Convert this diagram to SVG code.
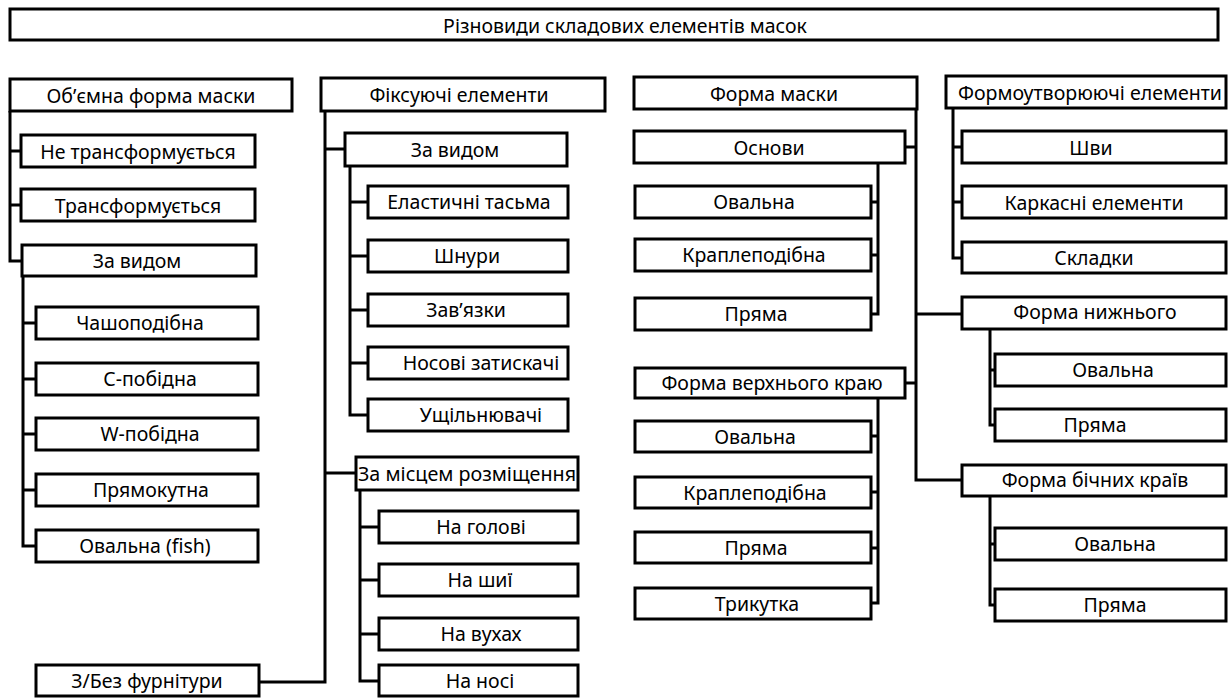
<svg xmlns="http://www.w3.org/2000/svg" width="1229" height="698" viewBox="0 0 1229 698">
<style>
rect{fill:#fff;stroke:#000;stroke-width:3}
text{font-family:"Noto Sans","Open Sans","DejaVu Sans",sans-serif;font-size:19.5px;fill:#000;text-anchor:middle;dominant-baseline:central}
.c path{fill:none;stroke:#000;stroke-width:3}
</style>
<rect width="1229" height="698" style="stroke:none"/>
<g class="c" id="connectors">
<path d="M10,111V261H22M10,151H21M10,205H21"/>
<path d="M23,276V546H36M23,323H36M23,379H36M23,434H36M23,490H36"/>
<path d="M325,111V682H259M325,149H345M325,473H356"/>
<path d="M350,166V415H368M350,202H368M350,256H368M350,310H368M350,363H368"/>
<path d="M360,490V681H379M360,527H379M360,580H379M360,634H379"/>
<path d="M916,109V480H962M916,147H905M916,383H905M916,314H962"/>
<path d="M878,163V314H871M878,202H871M878,255H871"/>
<path d="M878,398V603H871M878,436H871M878,492H871M878,548H871"/>
<path d="M953,108V258H962M953,147H962M953,202H962"/>
<path d="M990,329V425H995M990,370H995"/>
<path d="M990,496V605H995M990,544H995"/>
</g>
<g id="title"><rect x="10" y="9" width="1208" height="31"/><text x="625" y="25">Різновиди складових елементів масок</text></g>
<g id="n-obyemna"><rect x="10" y="79" width="282" height="32"/><text x="151" y="95">Об’ємна форма маски</text></g>
<g id="n-ne-transf"><rect x="21" y="135" width="234" height="32"/><text x="138" y="151">Не трансформується</text></g>
<g id="n-transf"><rect x="21" y="189" width="234" height="32"/><text x="138" y="205">Трансформується</text></g>
<g id="n-zavydom1"><rect x="22" y="245" width="234" height="31"/><text x="137" y="260">За видом</text></g>
<g id="n-chasho"><rect x="36" y="307" width="222" height="32"/><text x="140" y="322">Чашоподібна</text></g>
<g id="n-c"><rect x="36" y="363" width="222" height="32"/><text x="150" y="378">С-побідна</text></g>
<g id="n-w"><rect x="36" y="418" width="222" height="32"/><text x="150" y="433">W-побідна</text></g>
<g id="n-pryamokut"><rect x="36" y="474" width="222" height="32"/><text x="151" y="489">Прямокутна</text></g>
<g id="n-fish"><rect x="36" y="530" width="222" height="32"/><text x="145" y="545">Овальна (fish)</text></g>
<g id="n-furnitura"><rect x="36" y="665" width="223" height="31"/><text x="147" y="680">З/Без фурнітури</text></g>
<g id="n-fiks"><rect x="321" y="78" width="284" height="33"/><text x="459" y="94">Фіксуючі елементи</text></g>
<g id="n-zavydom2"><rect x="345" y="133" width="222" height="33"/><text x="455" y="149">За видом</text></g>
<g id="n-elast"><rect x="368" y="186" width="200" height="32"/><text x="469" y="201">Еластичні тасьма</text></g>
<g id="n-shnury"><rect x="368" y="240" width="200" height="32"/><text x="467" y="255">Шнури</text></g>
<g id="n-zavyazky"><rect x="368" y="294" width="200" height="32"/><text x="466" y="309">Зав’язки</text></g>
<g id="n-nosovi"><rect x="368" y="347" width="200" height="32"/><text x="481" y="362">Носові затискачі</text></g>
<g id="n-ushch"><rect x="368" y="399" width="200" height="32"/><text x="481" y="414">Ущільнювачі</text></g>
<g id="n-mistse"><rect x="356" y="457" width="222" height="33"/><text x="467" y="473" textLength="218" lengthAdjust="spacingAndGlyphs">За місцем розміщення</text></g>
<g id="n-golova"><rect x="379" y="511" width="199" height="32"/><text x="481" y="526">На голові</text></g>
<g id="n-shyya"><rect x="379" y="564" width="199" height="32"/><text x="480" y="579">На шиї</text></g>
<g id="n-vukha"><rect x="379" y="618" width="199" height="32"/><text x="481" y="633">На вухах</text></g>
<g id="n-nis"><rect x="379" y="665" width="199" height="31"/><text x="480" y="680">На носі</text></g>
<g id="n-forma"><rect x="634" y="77" width="283" height="32"/><text x="774" y="93">Форма маски</text></g>
<g id="n-osnovy"><rect x="634" y="131" width="271" height="32"/><text x="769" y="147">Основи</text></g>
<g id="n-o-oval"><rect x="635" y="186" width="236" height="32"/><text x="754" y="201">Овальна</text></g>
<g id="n-o-krapl"><rect x="635" y="239" width="236" height="32"/><text x="754" y="254">Краплеподібна</text></g>
<g id="n-o-pryama"><rect x="635" y="298" width="236" height="32"/><text x="756" y="313">Пряма</text></g>
<g id="n-verkh"><rect x="635" y="368" width="270" height="30"/><text x="772" y="382">Форма верхнього краю</text></g>
<g id="n-v-oval"><rect x="635" y="421" width="236" height="31"/><text x="755" y="436">Овальна</text></g>
<g id="n-v-krapl"><rect x="635" y="477" width="236" height="31"/><text x="755" y="492">Краплеподібна</text></g>
<g id="n-v-pryama"><rect x="635" y="532" width="236" height="31"/><text x="756" y="547">Пряма</text></g>
<g id="n-v-tryk"><rect x="635" y="588" width="236" height="31"/><text x="757" y="603">Трикутка</text></g>
<g id="n-formout"><rect x="946" y="76" width="280" height="32"/><text x="1090" y="92" textLength="264" lengthAdjust="spacingAndGlyphs">Формоутворюючі елементи</text></g>
<g id="n-shvy"><rect x="962" y="131" width="264" height="32"/><text x="1091" y="147">Шви</text></g>
<g id="n-karkas"><rect x="962" y="186" width="264" height="32"/><text x="1094" y="202">Каркасні елементи</text></g>
<g id="n-skladky"><rect x="962" y="242" width="264" height="31"/><text x="1094" y="257">Складки</text></g>
<g id="n-nyzh"><rect x="962" y="297" width="264" height="32"/><text x="1095" y="311">Форма нижнього</text></g>
<g id="n-n-oval"><rect x="995" y="354" width="231" height="32"/><text x="1113" y="369">Овальна</text></g>
<g id="n-n-pryama"><rect x="995" y="409" width="231" height="32"/><text x="1095" y="424">Пряма</text></g>
<g id="n-bichni"><rect x="962" y="465" width="264" height="31"/><text x="1095" y="479">Форма бічних країв</text></g>
<g id="n-b-oval"><rect x="995" y="528" width="231" height="32"/><text x="1115" y="543">Овальна</text></g>
<g id="n-b-pryama"><rect x="995" y="589" width="231" height="32"/><text x="1115" y="604">Пряма</text></g>
</svg>
